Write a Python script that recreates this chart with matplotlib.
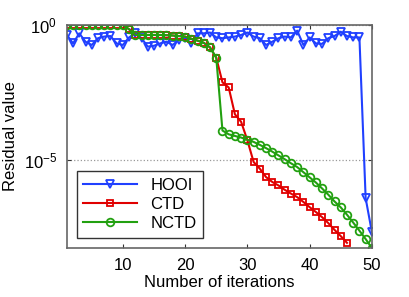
import numpy as np
import matplotlib
matplotlib.use("Agg")
import matplotlib.pyplot as plt

plt.rcParams['font.family'] = ['Liberation Sans', 'DejaVu Sans']

iterations = list(range(1, 51))

# log10 of residual values
hooi_log10 = [-0.37, -0.68, -0.31, -0.62, -0.74, -0.49, -0.43, -0.41, -0.68, -0.74,
              -0.46, -0.31, -0.49, -0.80, -0.77, -0.68, -0.62, -0.74, -0.55, -0.49,
              -0.68, -0.31, -0.31, -0.28, -0.46, -0.49, -0.46, -0.43, -0.37, -0.28,
              -0.43, -0.49, -0.74, -0.62, -0.49, -0.43, -0.46, -0.21, -0.74, -0.46,
              -0.68, -0.70, -0.49, -0.41, -0.25, -0.41, -0.46, -0.46, -6.40, -7.65]

early_log10 = [0.0, 0.0, 0.0, 0.0, 0.0, 0.0, 0.0, 0.0, 0.0, 0.0,
               -0.16, -0.37, -0.37, -0.37, -0.37, -0.37, -0.38, -0.39, -0.41, -0.43,
               -0.51, -0.58, -0.66, -0.83, -1.21]

ctd_log10 = early_log10 + [-2.12, -2.31, -3.30, -3.58, -4.26, -5.06, -5.31, -5.62, -5.80,
                           -5.93, -6.09, -6.23, -6.36, -6.54, -6.73, -6.91, -7.10, -7.32,
                           -7.57, -7.80, -8.05]

nctd_log10 = early_log10 + [-3.90, -4.04, -4.10, -4.16, -4.24, -4.32, -4.43, -4.55, -4.68,
                            -4.82, -4.96, -5.11, -5.25, -5.44, -5.63, -5.82, -6.04, -6.27,
                            -6.52, -6.74, -7.01, -7.30, -7.60, -7.91, -8.24]

blue = '#2040ff'
red = '#e00000'
green = '#22a010'

fig = plt.figure(figsize=(4.1, 2.97), dpi=100)
ax = fig.add_axes([0.163, 0.165, 0.744, 0.751])

ax.semilogy(iterations, 10.0 ** np.array(hooi_log10), '-v', color=blue, lw=1.5,
            ms=6, mfc='none', mew=1.3, label='HOOI')
ax.semilogy(iterations[:len(ctd_log10)], 10.0 ** np.array(ctd_log10), '-s', color=red, lw=1.5,
            ms=5, mfc='none', mew=1.3, label='CTD')
ax.semilogy(iterations, 10.0 ** np.array(nctd_log10), '-o', color=green, lw=1.5,
            ms=5.5, mfc='none', mew=1.3, label='NCTD')

ax.set_xlim(1, 50)
ax.set_ylim(10 ** -8.24, 1)
ax.set_xticks([10, 20, 30, 40, 50])
ax.set_yticks([1, 1e-5])
ax.yaxis.set_minor_locator(matplotlib.ticker.NullLocator())
ax.yaxis.grid(True, linestyle=':', color='#999999', lw=0.9)
ax.tick_params(direction='in', top=True, right=True, labelsize=12, length=3,
               color='#333333', pad=7)

for s in ax.spines.values():
    s.set_color('#666666')
    s.set_linewidth(1.2)

ax.set_xlabel('Number of iterations', fontsize=12, labelpad=2)
ax.set_ylabel('Residual value', fontsize=12, labelpad=4)

leg = ax.legend(loc='lower left', fontsize=12, fancybox=False, edgecolor='black',
                handlelength=3.2, borderpad=0.4, labelspacing=0.25, borderaxespad=0.6)
leg.get_frame().set_linewidth(1.0)

fig.savefig('out.png', dpi=100)
